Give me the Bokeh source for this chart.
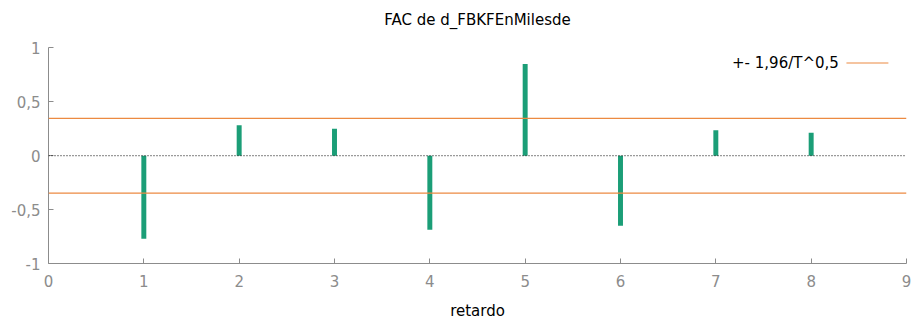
from bokeh.plotting import figure
from bokeh.models import Range1d, FixedTicker, Span, Label, ColumnDataSource
from bokeh.embed import file_html
from bokeh.resources import INLINE

# Autocorrelation of d_FBKFEnMilesde by lag
lags = [1, 2, 3, 4, 5, 6, 7, 8]
acf = [-0.771, 0.282, 0.249, -0.686, 0.850, -0.649, 0.236, 0.212]
band = 0.347  # 1,96 / sqrt(T)

y_ticks = [-1, -0.5, 0, 0.5, 1]
y_tick_labels = ["-1", "-0,5", "0", "0,5", "1"]
x_ticks = [0, 1, 2, 3, 4, 5, 6, 7, 8, 9]

FONT = "DejaVu Sans"
FS = "15px"
GREEN = "#1b9e77"
ORANGE = "#ec8a42"
GREY = "#8c8c8c"

# the frame runs up to the top edge so the title can sit inside it;
# the y axis itself is bounded to [-1, 1]
p = figure(width=911, height=322, output_backend="svg", toolbar_location=None,
           x_range=Range1d(0, 9), y_range=Range1d(-1, 1.44),
           min_border_left=48, min_border_right=5,
           min_border_top=0, min_border_bottom=57)
p.title = None

p.outline_line_color = None
p.xgrid.visible = False
p.ygrid.visible = False

for ax in (p.xaxis[0], p.yaxis[0]):
    ax.axis_line_color = GREY
    ax.major_tick_line_color = GREY
    ax.major_tick_in = 5
    ax.major_tick_out = 0
    ax.minor_tick_line_color = None
    ax.major_label_text_font = FONT
    ax.major_label_text_font_size = FS
    ax.major_label_text_color = GREY

p.xaxis.ticker = FixedTicker(ticks=x_ticks)
p.xaxis.major_label_standoff = 11
p.xaxis.axis_label = "retardo"
p.xaxis.axis_label_text_font = FONT
p.xaxis.axis_label_text_font_size = FS
p.xaxis.axis_label_text_font_style = "normal"
p.xaxis.axis_label_text_color = "black"
p.xaxis.axis_label_standoff = 12

p.yaxis.ticker = FixedTicker(ticks=y_ticks)
p.yaxis.bounds = (-1, 1)
p.yaxis.major_label_overrides = {t: s for t, s in zip(y_ticks, y_tick_labels)}
p.yaxis.major_label_standoff = 8

# chart title, centred above the correlogram
p.add_layout(Label(x=4.5, y=1.256, text="FAC de d_FBKFEnMilesde",
                   text_align="center", text_baseline="middle",
                   text_font=FONT, text_font_size=FS, text_color="black"))

# zero line and confidence band
p.add_layout(Span(location=0, dimension="width", line_color="black",
                  line_width=1, line_dash="1 2"))
for loc in (band, -band):
    p.add_layout(Span(location=loc, dimension="width", line_color=ORANGE,
                      line_width=1.2))

# correlation bars
src = ColumnDataSource(dict(lag=lags, acf=acf))
p.vbar(x="lag", top="acf", bottom=0, width=0.052, source=src,
       fill_color=GREEN, line_color=None)

# key for the band lines
p.add_layout(Label(x=8.29, y=0.86, text="+- 1,96/T^0,5", text_align="right",
                   text_baseline="middle", text_font=FONT,
                   text_font_size=FS, text_color="black"))
p.line(x=[8.37, 8.81], y=[0.86, 0.86], line_color=ORANGE, line_width=1.2)

open("out.html", "w").write(file_html(p, INLINE))
